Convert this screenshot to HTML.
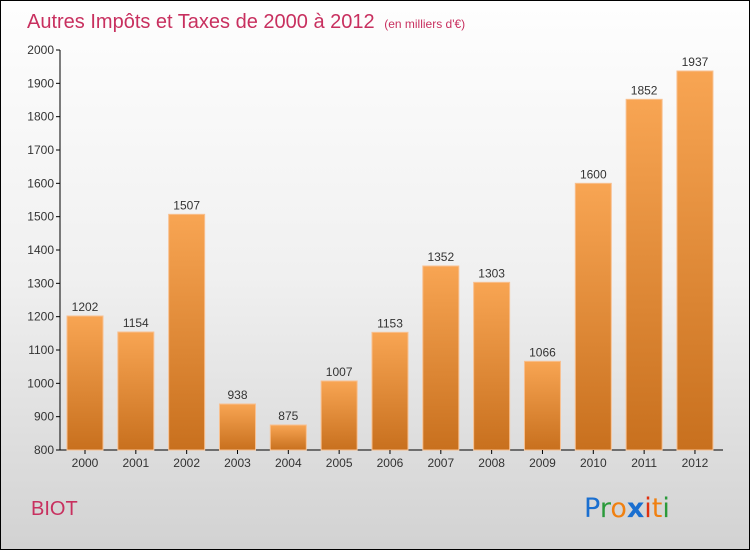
<!DOCTYPE html>
<html><head><meta charset="utf-8"><style>
body{margin:0;}
#c{position:relative;width:748px;height:548px;border:1px solid #000;background:linear-gradient(#fefefe 0%,#f0f0f0 50%,#d2d2d2 100%);font-family:"Liberation Sans",sans-serif;overflow:hidden}
</style></head><body>
<div id="c">
<svg id="s" width="748" height="548" xmlns="http://www.w3.org/2000/svg">
<defs><linearGradient id="bg" x1="0" y1="0" x2="0" y2="1"><stop offset="0" stop-color="#f8a553"/><stop offset="1" stop-color="#c8701e"/></linearGradient></defs>
<text x="26" y="27" font-size="20" fill="#c8305f">Autres Impôts et Taxes de 2000 à 2012 <tspan font-size="12" dx="4">(en milliers d'€)</tspan></text>
<text x="30" y="514" font-size="20" fill="#c8305f">BIOT</text>
<g font-size="27" font-family="'DejaVu Sans',sans-serif">
<text x="583" y="516"><tspan fill="#1a6fd0">P</tspan><tspan fill="#2a9a3a">r</tspan><tspan fill="#f08010">o</tspan><tspan fill="#1a6fd0" font-weight="bold">x</tspan><tspan fill="#e03010">i</tspan><tspan fill="#f08010">t</tspan><tspan fill="#2a9a3a">i</tspan></text></g>
<g id="plot"></g>
</svg>
</div>
<script>
const years=["2000","2001","2002","2003","2004","2005","2006","2007","2008","2009","2010","2011","2012"];
const values=[1202,1154,1507,938,875,1007,1153,1352,1303,1066,1600,1852,1937];
const ticks=[800,900,1000,1100,1200,1300,1400,1500,1600,1700,1800,1900,2000];
const NS="http://www.w3.org/2000/svg";
const g=document.getElementById('plot');
const y=v=>449-(v-800)*(400/1200);
const x=i=>84+i*50.83;
function mk(t,a){const e=document.createElementNS(NS,t);for(const k in a)e.setAttribute(k,a[k]);g.appendChild(e);return e;}
let ax=mk('line',{x1:59,y1:49,x2:59,y2:449,stroke:'#000'});


let xx=mk('line',{x1:59,y1:449,x2:722,y2:449,stroke:'#000'});


ticks.forEach(t=>{
 const l=mk('line',{x1:55,y1:y(t),x2:59,y2:y(t),stroke:'#000'});
 
 
 const tx=mk('text',{x:53,y:y(t)+4,'text-anchor':'end','font-size':12,fill:'#333'});
 tx.textContent=t;
 
 
});
values.forEach((v,i)=>{
 const cx=x(i);
 const r=mk('rect',{x:cx-18,y:y(v),width:36,height:449-y(v),fill:'url(#bg)',stroke:'#f8c090','stroke-width':1});
 
 
 const tk=mk('line',{x1:cx,y1:449,x2:cx,y2:453,stroke:'#000'});
 
 
 const t=mk('text',{x:cx,y:y(v)-5,'text-anchor':'middle','font-size':12,fill:'#333'});
 t.textContent=v;
 
 
 const xl=mk('text',{x:cx,y:466,'text-anchor':'middle','font-size':12,fill:'#333'});
 xl.textContent=years[i];
 
 
});
</script>
</body></html>
